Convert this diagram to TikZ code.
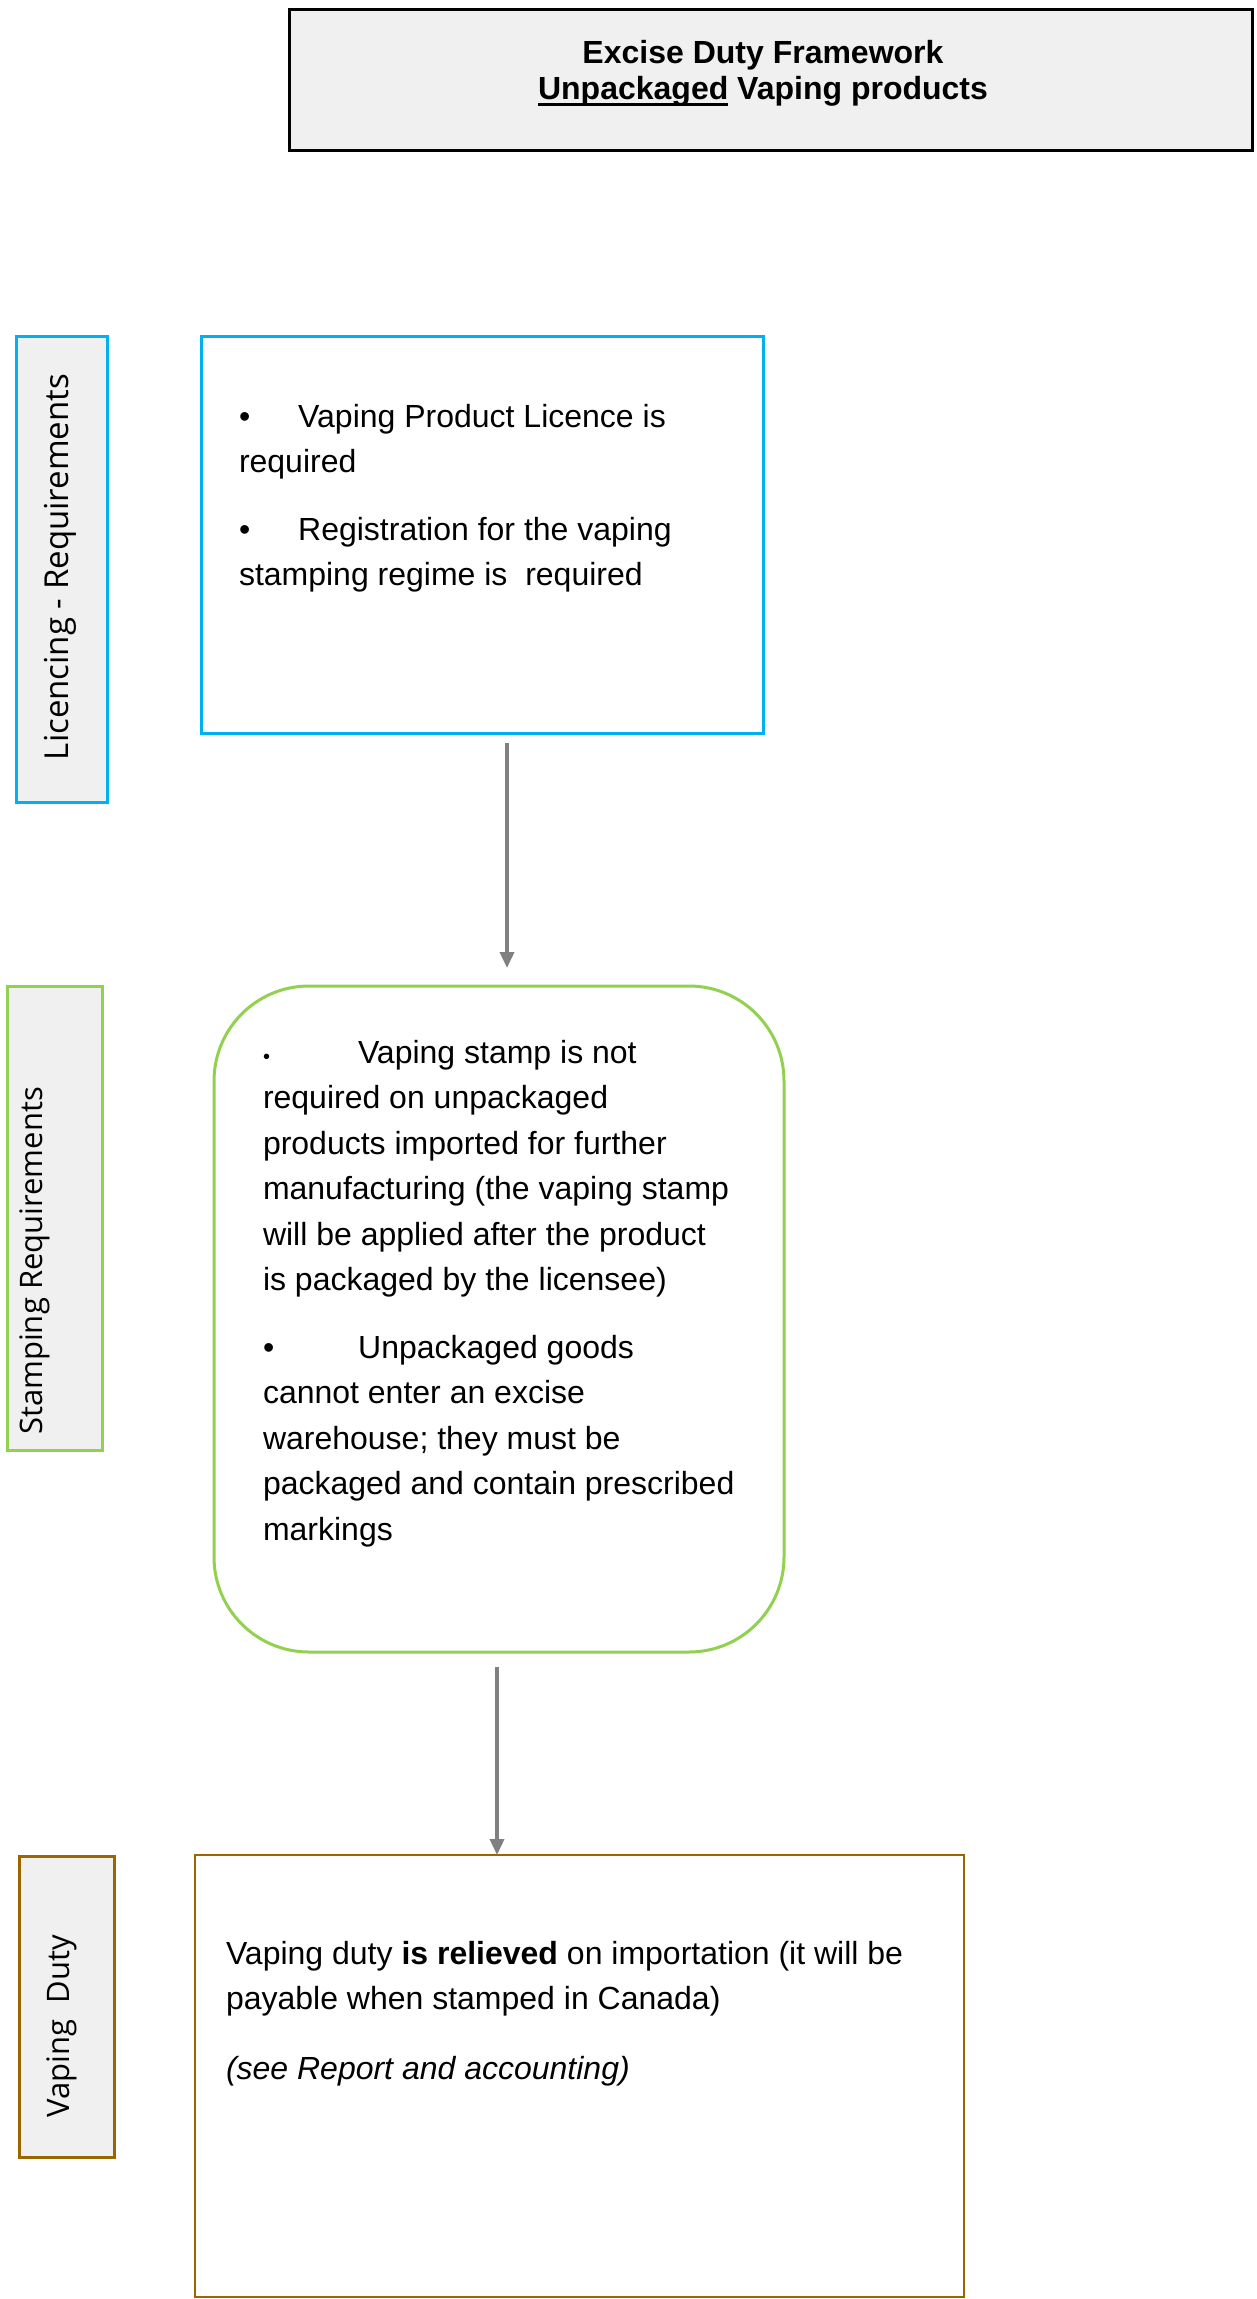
\documentclass[tikz,border=0pt]{standalone}
\usepackage{fontspec}
\setmainfont{Liberation Sans}
\newfontfamily\labelfont{Open Sans}
\usetikzlibrary{arrows.meta}
\definecolor{cyanb}{RGB}{0,176,240}
\definecolor{greenb}{RGB}{146,208,80}
\definecolor{brownb}{RGB}{153,102,0}
\definecolor{fillg}{RGB}{240,240,240}
\definecolor{arrowg}{RGB}{128,128,128}
\newcommand\ulword[1]{\setbox0\hbox{#1}\rlap{\rule[-6pt]{\wd0}{2.5pt}}\box0\relax}
\begin{document}
\begin{tikzpicture}[x=1pt,y=-1pt,
  every node/.style={inner sep=0pt, outer sep=0pt},
  body/.style={font=\fontsize{32}{45.5}\selectfont, align=left, anchor=north west, text=black},
  sidelabel/.style={font=\labelfont\fontsize{31}{36}\selectfont, rotate=90},
  sidebox/.style={line width=3pt, fill=fillg},
  conn/.style={draw=arrowg, line width=3.5pt, -{Triangle[length=16pt,width=14pt]}}
]
\useasboundingbox (0,0) rectangle (1257,2299);

% title
\node (title) [draw=black, line width=3pt, fill=fillg, minimum width=963pt, minimum height=140pt, anchor=north west] at (289,10) {};
\node (t1) [anchor=base, font=\fontsize{32}{36}\selectfont\bfseries] at (763,63.5) {Excise Duty Framework};
\node (t2) [anchor=base, font=\fontsize{32}{36}\selectfont\bfseries] at (763,99.5) {\ulword{Unpackaged} Vaping products};

% row 1
\node (lic) [sidebox, draw=cyanb, minimum width=91pt, minimum height=466pt, anchor=north west] at (16,336) {};
\node (lictext) [sidelabel, font=\labelfont\fontsize{33}{36}\selectfont] at (60,567) {Licencing - Requirements};
\node (b1) [draw=cyanb, line width=3pt, minimum width=562pt, minimum height=397pt, anchor=north west] at (201,336) {};
\node (b1text) [body] at (239,404) {\textbullet\hspace{48pt}Vaping Product Licence is\\
required\\[22pt]
\textbullet\hspace{48pt}Registration for the vaping\\
stamping regime is\ \ required};

% row 2
\node (stp) [sidebox, draw=greenb, minimum width=95pt, minimum height=464pt, anchor=north west] at (7,986) {};
\node (stptext) [sidelabel] at (35,1261) {Stamping Requirements};
\node (b2) [draw=greenb, line width=3pt, rounded corners=95pt, minimum width=570pt, minimum height=666pt, anchor=north west] at (214,986) {};
\node (b2text) [body] at (263,1040) {{\fontsize{20}{20}\selectfont\textbullet}\hspace{88pt}Vaping stamp is not\\
required on unpackaged\\
products imported for further\\
manufacturing (the vaping stamp\\
will be applied after the product\\
is packaged by the licensee)\\[22pt]
\textbullet\hspace{84pt}Unpackaged goods\\
cannot enter an excise\\
warehouse; they must be\\
packaged and contain prescribed\\
markings};

% row 3
\node (vd) [sidebox, draw=brownb, minimum width=95pt, minimum height=301pt, anchor=north west] at (19,1856) {};
\node (vdtext) [sidelabel] at (62,2026) {Vaping\ \ Duty};
\node (b3) [draw=brownb, line width=2pt, minimum width=769pt, minimum height=442pt, anchor=north west] at (195,1855) {};
\node (b3text) [body] at (226,1941) {Vaping duty \textbf{is relieved} on importation (it will be\\
payable when stamped in Canada)\\[24pt]
\textit{(see Report and accounting)}};

% connectors
\draw[conn] ([xshift=25pt,yshift=-10pt]b1.south) -- ([xshift=8pt,yshift=18pt]b2.north);
\draw[conn] ([xshift=-2pt,yshift=-15pt]b2.south) -- ([xshift=-82.5pt]b3.north);
\end{tikzpicture}
\end{document}
